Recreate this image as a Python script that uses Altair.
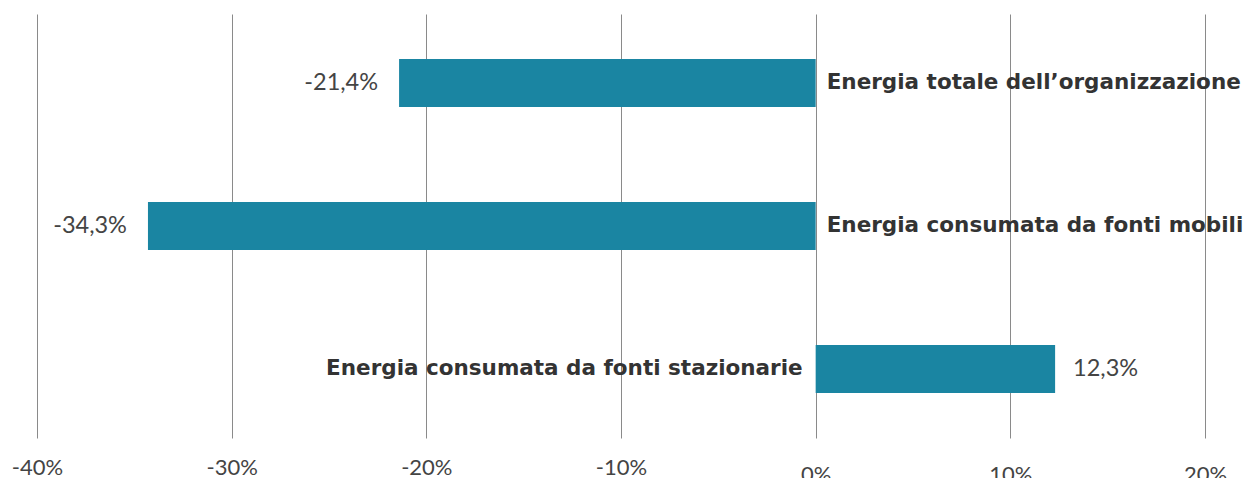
import altair as alt
import pandas as pd

categories = [
    "Energia totale dell\u2019organizzazione",
    "Energia consumata da fonti mobili",
    "Energia consumata da fonti stazionarie",
]
values = [-21.4, -34.3, 12.3]

df = pd.DataFrame({"cat": categories, "v": values})

FONT = "Lato"
BOLD_FONT = "DejaVu Sans"
BAR = "#1a85a2"

y_enc = alt.Y(
    "cat:N",
    sort=categories,
    axis=None,
    scale=alt.Scale(paddingInner=0.664, paddingOuter=0.315),
)

bars = alt.Chart(df).mark_bar(color=BAR).encode(
    x=alt.X(
        "v:Q",
        scale=alt.Scale(domain=[-40, 20], nice=False),
        axis=alt.Axis(
            values=[-40, -30, -20, -10, 0, 10, 20],
            labelExpr="datum.value + '%'",
            grid=True,
            gridColor="#8a8a8a",
            gridWidth=1,
            domain=False,
            ticks=False,
            labelFlush=False,
            labelFont=FONT,
            labelFontSize=22,
            labelColor="#444444",
            labelBaseline="top",
            labelPadding={"condition": {"test": "datum.value >= 0", "value": 26}, "value": 19},
            title=None,
        ),
    ),
    y=y_enc,
)

neg = alt.datum.v < 0
pos = alt.datum.v >= 0

cat_neg = alt.Chart(df).transform_filter(neg).mark_text(
    align="left", baseline="middle", dx=11, font=BOLD_FONT, fontWeight="bold",
    fontSize=21.5, color="#333333",
).encode(x=alt.datum(0), y=y_enc, text="cat:N")

cat_pos = alt.Chart(df).transform_filter(pos).mark_text(
    align="right", baseline="middle", dx=-13, font=BOLD_FONT, fontWeight="bold",
    fontSize=21.5, color="#333333",
).encode(x=alt.datum(0), y=y_enc, text="cat:N")

val_expr = "replace(replace(format(datum.v, '.1f'), '\u2212', '-'), '.', ',') + '%'"

val_neg = alt.Chart(df).transform_filter(neg).transform_calculate(
    lab=val_expr
).mark_text(
    align="right", baseline="middle", dx=-21, font=FONT, fontSize=23.5, color="#444444",
).encode(x="v:Q", y=y_enc, text="lab:N")

val_pos = alt.Chart(df).transform_filter(pos).transform_calculate(
    lab=val_expr
).mark_text(
    align="left", baseline="middle", dx=18, font=FONT, fontSize=23.5, color="#444444",
).encode(x="v:Q", y=y_enc, text="lab:N")

chart = alt.layer(bars, cat_neg, cat_pos, val_neg, val_pos).properties(
    width=1168,
    height=424,
    autosize=alt.AutoSizeParams(type="none"),
    padding={"left": 29, "top": 6, "right": 44, "bottom": 40},
    background="white",
).configure_view(strokeWidth=0, stroke=None)

chart.save("out.html", embed_options={"renderer": "svg", "actions": False})
